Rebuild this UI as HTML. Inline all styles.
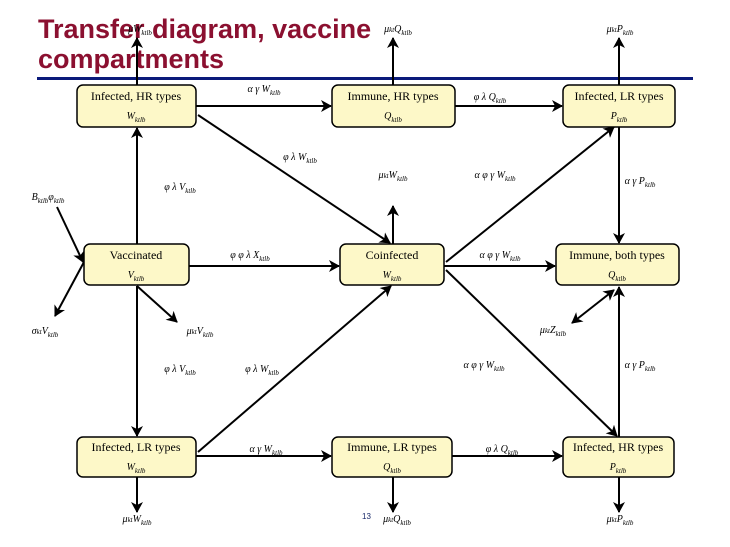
<!DOCTYPE html>
<html><head><meta charset="utf-8"><style>
body{margin:0;background:#fff;}
svg{display:block;}
.t{font-family:"Liberation Sans",sans-serif;font-weight:bold;font-size:27px;fill:#8b1030;}
.b{font-family:"Liberation Serif",serif;font-size:12px;fill:#000;}
.m{font-family:"Liberation Serif",serif;font-style:italic;font-size:10px;fill:#000;}
.s{font-size:7px;}
</style></head><body>
<svg width="730" height="547" viewBox="0 0 730 547">
<defs><marker id="a" markerWidth="12" markerHeight="12" refX="10" refY="6" orient="auto" markerUnits="userSpaceOnUse"><path d="M0,0 L11,6 L0,12 L3,6z" fill="#000"/></marker>
<marker id="as" markerWidth="12" markerHeight="12" refX="1" refY="6" orient="auto" markerUnits="userSpaceOnUse"><path d="M11,0 L0,6 L11,12 L8,6z" fill="#000"/></marker></defs>
<text class="t" x="38" y="38">Transfer diagram, vaccine</text>
<text class="t" x="38" y="68">compartments</text>
<rect x="37" y="77" width="656" height="3" fill="#0a1a7a"/>
<g stroke="#000" stroke-width="2" fill="none" marker-end="url(#a)">
<line x1="137" y1="85" x2="137" y2="38"/>
<line x1="393" y1="85" x2="393" y2="38"/>
<line x1="619" y1="85" x2="619" y2="38"/>
<line x1="137" y1="244" x2="137" y2="128"/>
<line x1="137" y1="286" x2="137" y2="436"/>
<line x1="137" y1="477" x2="137" y2="512"/>
<line x1="393" y1="477" x2="393" y2="512"/>
<line x1="619" y1="477" x2="619" y2="512"/>
<line x1="196" y1="106" x2="331" y2="106"/>
<line x1="455" y1="106" x2="562" y2="106"/>
<line x1="189" y1="266" x2="339" y2="266"/>
<line x1="444" y1="266" x2="555" y2="266"/>
<line x1="196" y1="456" x2="331" y2="456"/>
<line x1="452" y1="456" x2="562" y2="456"/>
<line x1="198" y1="115" x2="390" y2="243"/>
<line x1="393" y1="244" x2="393" y2="206"/>
<line x1="446" y1="262" x2="614" y2="127"/>
<line x1="619" y1="127" x2="619" y2="243"/>
<line x1="446" y1="270" x2="617" y2="436"/>
<line x1="198" y1="452" x2="391" y2="286"/>
<line x1="619" y1="437" x2="619" y2="287"/>
<line x1="57" y1="207" x2="83" y2="262"/>
<line x1="84" y1="262" x2="55" y2="316"/>
<line x1="137" y1="286" x2="177" y2="322"/>
<line x1="614" y1="290" x2="572" y2="323" marker-start="url(#as)"/>
</g>
<g fill="#fdf8c8" stroke="#000" stroke-width="1.5">
<rect x="77" y="85" width="119" height="42" rx="6"/>
<rect x="332" y="85" width="123" height="42" rx="6"/>
<rect x="563" y="85" width="112" height="42" rx="6"/>
<rect x="84" y="244" width="105" height="41" rx="6"/>
<rect x="340" y="244" width="104" height="41" rx="6"/>
<rect x="556" y="244" width="123" height="41" rx="6"/>
<rect x="77" y="437" width="119" height="40" rx="6"/>
<rect x="332" y="437" width="120" height="40" rx="6"/>
<rect x="563" y="437" width="111" height="40" rx="6"/>
</g>
<g class="b" text-anchor="middle">
<text x="136" y="100">Infected, HR types</text>
<text x="393" y="100">Immune, HR types</text>
<text x="619" y="100">Infected, LR types</text>
<text x="136" y="259">Vaccinated</text>
<text x="392" y="259">Coinfected</text>
<text x="617" y="259">Immune, both types</text>
<text x="136" y="451">Infected, LR types</text>
<text x="392" y="451">Immune, LR types</text>
<text x="618" y="451">Infected, HR types</text>
</g>
<g class="m" text-anchor="middle">
<text x="136" y="119">W<tspan class="s" dy="3">ktlb</tspan></text>
<text x="393" y="119">Q<tspan class="s" dy="3">ktlb</tspan></text>
<text x="619" y="119">P<tspan class="s" dy="3">ktlb</tspan></text>
<text x="136" y="278">V<tspan class="s" dy="3">ktlb</tspan></text>
<text x="392" y="278">W<tspan class="s" dy="3">ktlb</tspan></text>
<text x="617" y="278">Q<tspan class="s" dy="3">ktlb</tspan></text>
<text x="136" y="470">W<tspan class="s" dy="3">ktlb</tspan></text>
<text x="392" y="470">Q<tspan class="s" dy="3">ktlb</tspan></text>
<text x="618" y="470">P<tspan class="s" dy="3">ktlb</tspan></text>
<text x="140" y="32">μW<tspan class="s" dy="3">ktlb</tspan></text>
<text x="398" y="32">μ<tspan class="s">kt</tspan>Q<tspan class="s" dy="3">ktlb</tspan></text>
<text x="620" y="32">μ<tspan class="s">kt</tspan>P<tspan class="s" dy="3">ktlb</tspan></text>
<text x="264" y="92">α γ W<tspan class="s" dy="3">ktlb</tspan></text>
<text x="490" y="100">φ λ Q<tspan class="s" dy="3">ktlb</tspan></text>
<text x="300" y="160">φ λ W<tspan class="s" dy="3">ktlb</tspan></text>
<text x="180" y="190">φ λ V<tspan class="s" dy="3">ktlb</tspan></text>
<text x="393" y="178">μ<tspan class="s">kt</tspan>W<tspan class="s" dy="3">ktlb</tspan></text>
<text x="495" y="178">α φ γ W<tspan class="s" dy="3">ktlb</tspan></text>
<text x="640" y="184">α γ P<tspan class="s" dy="3">ktlb</tspan></text>
<text x="48" y="200">B<tspan class="s" dy="3">ktlb</tspan><tspan dy="-3">φ</tspan><tspan class="s" dy="3">ktlb</tspan></text>
<text x="250" y="258">φ φ λ X<tspan class="s" dy="3">ktlb</tspan></text>
<text x="500" y="258">α φ γ W<tspan class="s" dy="3">ktlb</tspan></text>
<text x="45" y="334">σ<tspan class="s">kt</tspan>V<tspan class="s" dy="3">ktlb</tspan></text>
<text x="200" y="334">μ<tspan class="s">kt</tspan>V<tspan class="s" dy="3">ktlb</tspan></text>
<text x="553" y="333">μ<tspan class="s">kt</tspan>Z<tspan class="s" dy="3">ktlb</tspan></text>
<text x="180" y="372">φ λ V<tspan class="s" dy="3">ktlb</tspan></text>
<text x="262" y="372">φ λ W<tspan class="s" dy="3">ktlb</tspan></text>
<text x="484" y="368">α φ γ W<tspan class="s" dy="3">ktlb</tspan></text>
<text x="640" y="368">α γ P<tspan class="s" dy="3">ktlb</tspan></text>
<text x="266" y="452">α γ W<tspan class="s" dy="3">ktlb</tspan></text>
<text x="502" y="452">φ λ Q<tspan class="s" dy="3">ktlb</tspan></text>
<text x="137" y="522">μ<tspan class="s">kt</tspan>W<tspan class="s" dy="3">ktlb</tspan></text>
<text x="397" y="522">μ<tspan class="s">kt</tspan>Q<tspan class="s" dy="3">ktlb</tspan></text>
<text x="620" y="522">μ<tspan class="s">kt</tspan>P<tspan class="s" dy="3">ktlb</tspan></text>
</g>
<text x="362" y="519" font-family="Liberation Sans,sans-serif" font-size="8" fill="#1a2a6a">13</text>
</svg>
</body></html>
